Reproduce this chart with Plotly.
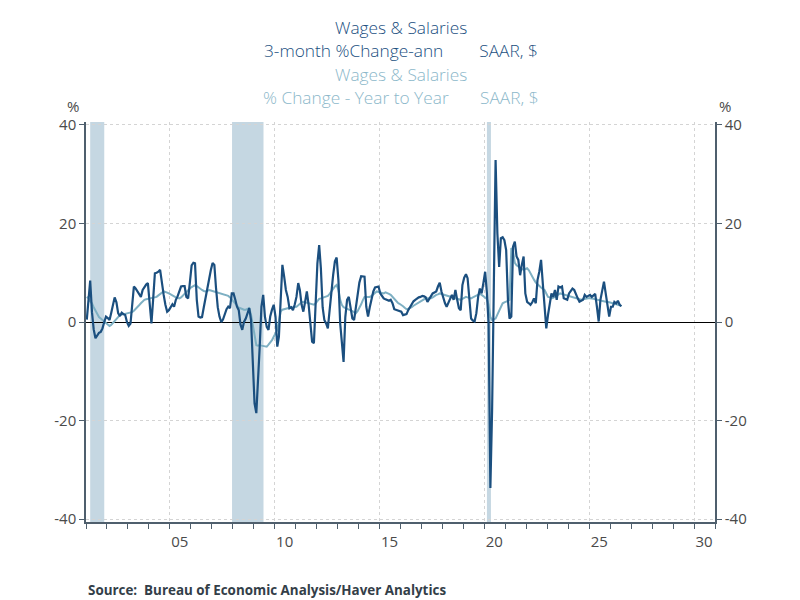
import pandas as pd
import plotly.graph_objects as go

# Wages & Salaries, monthly from Jan 2001 (%)
chg_3m_ann = [
    0.5, 5.5, 8.4, 2.0, -1.5, -3.3, -2.6, -2.2, -2.0, -1.3, 0.0, 1.1,      # 2001
    0.8, 0.4, 1.8, 3.5, 5.0, 4.0, 1.8, 1.2, 1.9, 1.6, 1.4, 0.0,           # 2002
    -0.8, -0.3, 3.5, 7.2, 6.8, 6.2, 5.5, 5.1, 6.5, 7.2, 7.6, 7.9,         # 2003
    3.1, -0.3, 4.5, 9.9, 10.0, 10.2, 10.6, 7.5, 5.5, 3.5, 2.1, 2.4,       # 2004
    3.1, 3.6, 3.1, 4.5, 5.2, 6.2, 7.2, 7.3, 7.3, 5.1, 4.8, 8.0,           # 2005
    11.5, 12.0, 11.9, 4.5, 1.1, 0.9, 1.0, 3.0, 5.0, 7.2, 9.0, 10.5,       # 2006
    12.0, 11.6, 7.0, 3.0, 1.1, 0.0, 0.5, 1.8, 2.6, 3.1, 2.8, 5.8,         # 2007
    5.8, 4.5, 3.1, 2.4, -0.5, -1.6, 0.0, 0.7, 1.8, 2.8, 0.4, -8.4,        # 2008
    -16.5, -18.5, -13.0, -5.0, 3.1, 5.5, 1.1, -1.0, -1.6, 1.1, 2.5, 3.5,  # 2009
    1.1, -5.0, -3.0, 3.1, 11.6, 9.2, 6.5, 5.1, 2.8, 3.0, 2.4, 3.5,        # 2010
    5.1, 7.9, 6.5, 3.5, 2.1, 4.1, 6.2, 3.5, -1.0, -4.0, -4.3, 5.1,        # 2011
    11.9, 15.6, 11.0, 3.0, 0.4, -0.3, -1.3, 2.4, 7.0, 9.5, 12.3, 13.1,    # 2012
    8.5, -0.3, -4.0, -8.1, 1.0, 4.5, 5.1, 3.1, 0.7, 0.4, 3.1, 6.2,        # 2013
    8.0, 9.3, 9.2, 9.2, 3.1, 1.1, 3.0, 5.0, 6.2, 7.0, 7.1, 7.2,           # 2014
    5.8, 5.3, 4.8, 4.6, 4.5, 4.3, 4.5, 3.8, 2.6, 2.5, 2.4, 2.2,           # 2015
    2.1, 1.4, 1.5, 1.6, 2.4, 3.0, 3.8, 4.2, 4.5, 4.8, 5.0, 5.1,           # 2016
    5.3, 5.2, 5.0, 4.1, 4.6, 5.1, 5.8, 6.0, 6.2, 7.2, 8.0, 6.2,           # 2017
    4.8, 3.8, 3.1, 4.0, 4.8, 5.5, 4.5, 6.5, 4.5, 2.8, 2.4, 7.5,           # 2018
    9.0, 9.7, 8.9, 3.8, 0.7, 0.3, 0.1, 1.8, 5.1, 6.8, 5.8, 7.9,           # 2019
    10.2, 5.8, -0.3, -33.7, -18.0, 8.0, 32.9, 18.0, 11.2, 17.0, 17.2, 16.6,  # 2020
    14.6, 4.5, 0.7, 1.1, 15.3, 16.3, 13.3, 12.6, 9.5, 11.6, 13.3, 5.8,    # 2021
    4.1, 3.8, 3.5, 4.0, 4.8, 3.8, 8.5, 10.2, 12.6, 7.9, 2.4, -1.3,        # 2022
    1.5, 3.8, 5.8, 5.1, 6.5, 4.5, 7.2, 7.0, 7.2, 4.8, 4.6, 4.5,           # 2023
    5.8, 6.3, 6.8, 6.5, 5.5, 4.8, 4.1, 4.3, 4.5, 5.5, 5.1, 5.3,           # 2024
    5.5, 5.1, 5.3, 5.7, 3.1, 0.1, 4.5, 6.5, 8.2, 5.8, 3.1, 1.1,           # 2025
    3.1, 3.1, 4.1, 3.8, 4.3, 3.5, 3.2,                                    # 2026
]

chg_yoy = [
    5.1, 4.8, 4.2, 3.8, 3.0, 2.4, 1.8, 1.0, 0.7, 0.4, 0.0, -0.3,          # 2001
    -0.5, -0.8, -0.6, -0.2, 0.4, 0.8, 1.1, 1.4, 1.5, 1.6, 1.7, 1.8,       # 2002
    1.8, 1.9, 2.0, 2.3, 2.6, 3.1, 3.4, 3.8, 4.1, 4.5, 4.6, 4.7,           # 2003
    4.8, 4.8, 4.9, 5.0, 5.1, 5.4, 5.7, 6.0, 6.2, 6.1, 6.0, 5.8,           # 2004
    5.6, 5.4, 5.1, 5.0, 4.9, 4.8, 5.0, 5.4, 5.8, 6.1, 6.5, 6.8,           # 2005
    7.1, 7.3, 7.5, 7.3, 7.0, 6.8, 6.5, 6.3, 6.2, 6.3, 6.5, 6.4,           # 2006
    6.3, 6.2, 6.1, 6.0, 5.9, 5.8, 5.7, 5.6, 5.5, 5.3, 5.0, 4.6,           # 2007
    4.1, 3.8, 3.3, 2.9, 2.8, 2.6, 2.5, 2.5, 2.7, 2.8, 1.5, -0.3,          # 2008
    -2.5, -4.7, -4.8, -4.7, -4.8, -4.9, -5.0, -5.0, -4.6, -4.2, -3.7, -3.0,  # 2009
    -2.3, -1.6, 0.2, 2.1, 2.5, 2.6, 2.8, 2.9, 3.0, 3.0, 3.0, 3.1,         # 2010
    3.1, 3.4, 3.7, 4.0, 4.1, 4.0, 3.9, 3.8, 3.7, 3.6, 3.5, 3.8,           # 2011
    4.3, 4.7, 4.8, 4.9, 5.0, 5.1, 5.3, 5.7, 6.2, 6.8, 7.2, 7.5,           # 2012
    6.5, 4.5, 3.5, 3.0, 2.8, 2.6, 2.5, 2.4, 2.2, 2.0, 1.8, 2.2,           # 2013
    2.8, 3.6, 4.4, 5.1, 5.1, 5.1, 5.1, 5.3, 5.6, 5.9, 6.2, 6.1,           # 2014
    6.0, 5.9, 5.8, 6.0, 5.9, 5.7, 5.5, 5.1, 4.7, 4.2, 3.9, 3.7,           # 2015
    3.5, 3.2, 2.9, 2.6, 2.7, 2.8, 3.0, 3.3, 3.5, 3.7, 3.9, 4.1,           # 2016
    4.3, 4.6, 4.8, 4.8, 4.8, 4.8, 5.0, 5.3, 5.5, 5.6, 5.8, 5.7,           # 2017
    5.6, 5.5, 5.4, 5.3, 5.1, 5.0, 4.9, 4.8, 4.7, 4.6, 4.5, 4.7,           # 2018
    4.9, 5.1, 5.0, 4.9, 4.8, 5.0, 5.2, 5.3, 5.5, 5.7, 5.5, 5.2,           # 2019
    5.0, 4.7, 3.5, 1.0, 0.4, 0.5, 0.7, 1.5, 2.4, 3.0, 3.8, 4.0,           # 2020
    4.1, 4.3, 4.5, 15.0, 14.5, 12.0, 11.5, 11.2, 11.0, 10.8, 10.6, 10.8,  # 2021
    10.9, 10.5, 9.8, 9.2, 8.6, 8.0, 7.6, 7.2, 7.0, 6.7, 6.5, 5.8,         # 2022
    5.1, 5.0, 4.8, 4.9, 5.1, 5.4, 5.6, 5.8, 5.7, 5.6, 5.5, 5.4,           # 2023
    5.3, 5.1, 5.0, 4.9, 4.8, 4.7, 4.6, 4.5, 4.6, 4.7, 4.8, 4.8,           # 2024
    4.8, 4.8, 4.7, 4.6, 4.5, 4.4, 4.3, 4.2, 4.1, 4.1, 4.1, 4.0,           # 2025
    3.9, 3.8, 3.8, 3.7, 3.6, 3.4, 3.2,                                    # 2026
]

recessions = [("2001-03-15", "2001-11-15"),
              ("2007-12-20", "2009-06-20"),
              ("2020-02-15", "2020-04-25")]

y_ticks = [-40, -20, 0, 20, 40]
y_labels = ["-40", "-20", "0", "20", "40"]
x_ticks = ["2005-01-01", "2010-01-01", "2015-01-01", "2020-01-01", "2025-01-01", "2030-01-01"]
x_labels = ["05", "10", "15", "20", "25", "30"]

dates = pd.date_range("2001-01-01", periods=len(chg_3m_ann), freq="MS") + pd.Timedelta(days=14)

DARK = "#1b4f7f"
LIGHT = "#7eb0c3"
AXIS = "#4f5f6d"
GRID = "#d4d4d4"
TICKS = "#4a4a4a"
FONT = "Open Sans"

fig = go.Figure()
fig.add_trace(go.Scatter(x=dates, y=chg_yoy, mode="lines", yaxis="y",
                         line=dict(color=LIGHT, width=2), name="% Change - Year to Year"))
# dark series sits on the right-hand axis (same scale) so it draws on top
fig.add_trace(go.Scatter(x=dates, y=chg_3m_ann, mode="lines", yaxis="y2",
                         line=dict(color=DARK, width=2.2), name="3-month %Change-ann"))

for start, end in recessions:
    fig.add_shape(type="rect", xref="x", yref="paper", x0=start, x1=end, y0=0, y1=1,
                  fillcolor="#c5d7e2", line_width=0, layer="below")

yax = dict(range=[-40.6, 40.6], tickvals=y_ticks, ticktext=y_labels,
           ticks="outside", ticklen=5, tickwidth=1, tickcolor=AXIS,
           showline=True, linecolor=AXIS, linewidth=1.5,
           tickfont=dict(size=15, color=TICKS))

fig.update_layout(
    width=800, height=600,
    margin=dict(l=86, r=85, t=122, b=78),
    paper_bgcolor="white", plot_bgcolor="white",
    showlegend=False,
    font=dict(family=FONT, color=TICKS),
    xaxis=dict(type="date", range=["2001-01-01", "2031-01-01"],
               tickvals=x_ticks, ticktext=x_labels, ticklabelshift=10,
               ticks="outside", ticklen=5, tickwidth=1, tickcolor=AXIS,
               showgrid=True, gridcolor=GRID, griddash="3px,3px", gridwidth=1,
               showline=True, linecolor=AXIS, linewidth=1.5,
               tickfont=dict(size=15, color=TICKS),
               minor=dict(dtick="M12", tick0="2001-01-01", ticks="outside",
                          ticklen=5, tickwidth=1, tickcolor=AXIS, showgrid=False)),
    yaxis=dict(**yax, showgrid=True, gridcolor=GRID, griddash="3px,3px",
               zeroline=True, zerolinecolor="black", zerolinewidth=1),
    yaxis2=dict(**yax, overlaying="y", side="right", showgrid=False, zeroline=False),
)

gap5 = "\u00a0" * 8
gap4 = "\u00a0" * 7
titles = [
    ("Wages & Salaries", DARK, 1.237),
    ("3-month %Change-ann" + gap5 + "SAAR, $", DARK, 1.18),
    ("Wages & Salaries", "#8cb8ca", 1.1185),
    ("% Change - Year to Year" + gap4 + "SAAR, $", "#8cb8ca", 1.0625),
]
for text, color, ypos in titles:
    fig.add_annotation(text=text, x=0.5, y=ypos, xref="paper", yref="paper",
                       showarrow=False, xanchor="center", yanchor="middle",
                       font=dict(family=FONT, size=17.3, color=color, weight=300))

for xpos in (-0.021, 1.016):
    fig.add_annotation(text="%", x=xpos, y=1.04, xref="paper", yref="paper",
                       showarrow=False, xanchor="center", yanchor="middle",
                       font=dict(family=FONT, size=15, color=TICKS))

fig.add_annotation(text="<b>Source:  Bureau of Economic Analysis/Haver Analytics</b>",
                   x=0, y=-0.17, xref="paper", yref="paper", showarrow=False,
                   xanchor="left", yanchor="middle",
                   font=dict(family=FONT, size=13.4, color="#333e48"))

fig.write_html("out.html", config={"displayModeBar": False},
               post_script="document.body.style.margin = '0';")
